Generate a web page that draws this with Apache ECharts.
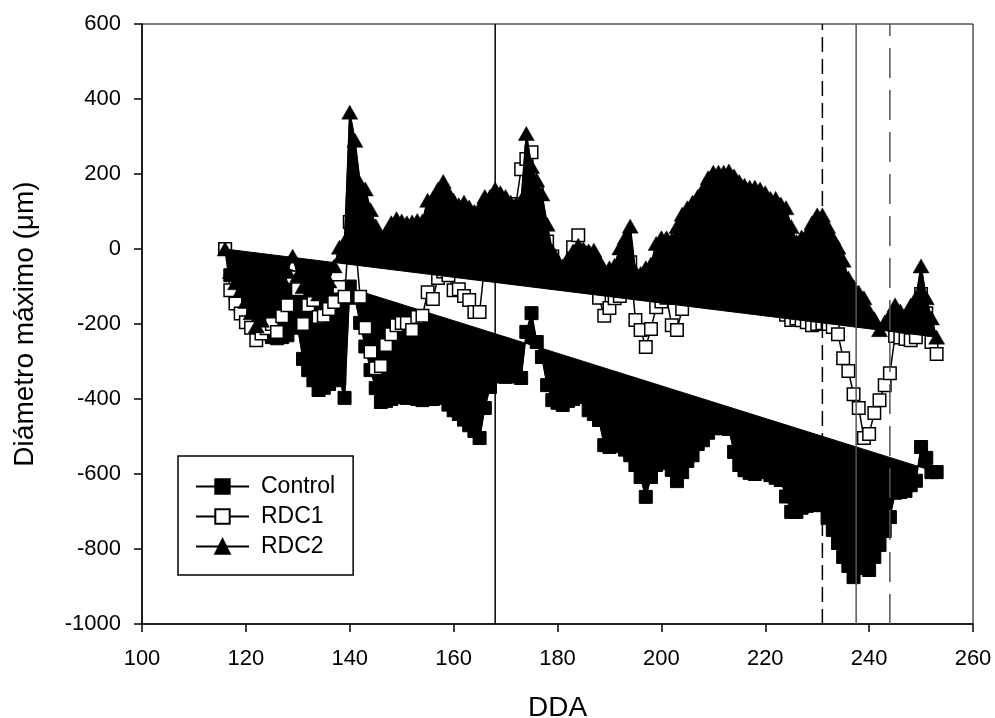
<!DOCTYPE html>
<html>
<head>
<meta charset="utf-8">
<style>html,body{margin:0;padding:0;background:#fff}#c{width:995px;height:718px}</style>
<script src="https://cdn.jsdelivr.net/npm/echarts@6/dist/echarts.min.js"></script>
</head>
<body>
<div id="c"></div>
<script>
const days = [
116,117,118,119,120,121,122,123,124,125,
126,127,128,129,130,131,132,133,134,135,
136,137,138,139,140,141,142,143,144,145,
146,147,148,149,150,151,152,153,154,155,
156,157,158,159,160,161,162,163,164,165,
166,167,168,169,170,171,172,173,174,175,
176,177,178,179,180,181,182,183,184,185,
186,187,188,189,190,191,192,193,194,195,
196,197,198,199,200,201,202,203,204,205,
206,207,208,209,210,211,212,213,214,215,
216,217,218,219,220,221,222,223,224,225,
226,227,228,229,230,231,232,233,234,235,
236,237,238,239,240,241,242,243,244,245,
246,247,248,249,250,251,252,253];
const control = [
0,-70,-120,-150,-170,-190,-210,-220,-215,-235,
-238,-235,-230,-190,-210,-293,-323,-350,-376,-370,
-360,-350,-345,-397,-100,-130,-197,-260,-323,-371,
-408,-405,-400,-395,-395,-397,-395,-400,-403,-400,
-400,-395,-397,-415,-430,-440,-455,-470,-485,-504,
-424,-368,-340,-335,-341,-335,-340,-344,-221,-171,
-248,-288,-363,-403,-410,-416,-405,-400,-395,-390,
-430,-440,-456,-523,-528,-525,-523,-535,-550,-576,
-608,-661,-608,-576,-560,-570,-589,-619,-595,-565,
-550,-520,-510,-490,-478,-477,-478,-480,-541,-576,
-590,-597,-600,-590,-595,-603,-610,-616,-660,-701,
-701,-690,-685,-683,-680,-683,-717,-749,-784,-821,
-845,-875,-850,-850,-856,-821,-789,-752,-715,-650,
-648,-645,-630,-618,-528,-557,-595,-595];
const rdc1 = [
0,-110,-145,-172,-195,-210,-243,-225,-211,-200,
-221,-179,-150,-75,-107,-200,-150,-136,-181,-178,
-160,-141,-101,-127,72,30,-127,-210,-274,-318,
-312,-256,-227,-203,-197,-197,-216,-181,-178,-115,
-133,-77,-60,-70,-110,-107,-125,-136,-168,-168,
-40,20,60,50,70,80,120,213,240,258,
150,60,20,-20,-60,-60,-60,5,37,-10,
-40,-80,-130,-178,-157,-131,-125,-80,-35,-189,
-216,-261,-213,-155,-140,-130,-203,-216,-160,-130,
-110,-80,-60,-40,-30,-30,-40,-50,-70,-80,
-90,-100,-110,-120,-130,-140,-150,-160,-175,-189,
-185,-190,-195,-203,-200,-198,-200,-208,-227,-291,
-325,-387,-424,-504,-493,-437,-403,-363,-331,-232,
-236,-240,-243,-235,-120,-171,-248,-280];
const rdc2 = [
0,-60,-90,-110,-140,-170,-205,-190,-160,-130,
-110,-80,-60,-19,-70,-100,-90,-110,-120,-100,
-85,-45,5,20,365,290,175,160,105,62,
30,45,70,81,75,70,72,76,75,130,
135,160,180,150,130,118,125,112,100,110,
140,140,160,150,140,125,120,130,308,220,
184,147,66,-5,-30,-45,-25,-5,10,0,
-5,-3,-30,-60,-50,-43,3,30,61,-60,
-65,-50,-40,15,30,30,25,60,93,110,
125,140,160,190,205,205,205,208,195,180,
170,165,165,160,150,135,135,120,110,60,
20,32,40,70,91,91,61,30,5,-30,
-77,-100,-115,-130,-165,-186,-215,-195,-175,-149,
-165,-180,-150,-130,-45,-130,-184,-235];
const refSolid = 168, refDashed = 231, refThin = 237.5, refLong = 244;
const yMin = -1000, yMax = 600;
const FONT = '"Liberation Sans", Arial, sans-serif';

const pairs = v => days.map((d, i) => [d, v[i]]);
function closedShape(v, z) {
  return {
    type: 'custom', coordinateSystem: 'cartesian2d', z, silent: true,
    data: pairs(v), encode: {x: 0, y: 1},
    renderItem(params, api) {
      if (params.dataIndex !== 0) return null;
      return {type: 'polygon',
        shape: {points: pairs(v).map(p => api.coord(p))},
        style: {fill: '#000', stroke: '#000', lineWidth: 1}};
    }
  };
}
function marks(name, v, symbol, size, fill, stroke, z) {
  return {
    type: 'line', name, data: pairs(v), symbol, symbolSize: size, showSymbol: true,
    showAllSymbol: true, z, silent: true,
    lineStyle: {color: '#000', width: 1.5},
    itemStyle: {color: fill, borderColor: '#000', borderWidth: stroke, opacity: 1}
  };
}
function ref(x, color, width, type) {
  return {
    type: 'line', data: [[x, yMin], [x, yMax]], symbol: 'none', z: 8, silent: true,
    lineStyle: {color, width, type}
  };
}
const chart = echarts.init(document.getElementById('c'), null, {renderer: 'canvas'});
chart.setOption({
  animation: false,
  backgroundColor: '#fff',
  textStyle: {fontFamily: FONT},
  grid: {left: 142, right: 22, top: 24, bottom: 94, show: true, containLabel: false, outerBoundsMode: 'none', borderColor: '#000', borderWidth: 1, backgroundColor: 'transparent'},
  xAxis: {
    type: 'value', min: 100, max: 260, interval: 20,
    name: 'DDA', nameLocation: 'middle', nameGap: 70,
    nameTextStyle: {fontSize: 28, color: '#000', fontFamily: FONT},
    axisLine: {onZero: false, lineStyle: {color: '#000', width: 1.5}},
    axisTick: {length: 8, lineStyle: {color: '#000', width: 1.5}},
    axisLabel: {fontSize: 22, color: '#000', margin: 24, fontFamily: FONT},
    splitLine: {show: false}
  },
  yAxis: {
    type: 'value', min: yMin, max: yMax, interval: 200,
    name: 'Diámetro máximo (μm)', nameLocation: 'middle', nameGap: 103,
    nameTextStyle: {fontSize: 28, color: '#000', fontFamily: FONT},
    axisLine: {onZero: false, lineStyle: {color: '#000', width: 1.5}},
    axisTick: {length: 8, lineStyle: {color: '#000', width: 1.5}},
    axisLabel: {fontSize: 22, color: '#000', margin: 21, fontFamily: FONT, formatter: v => String(v)},
    splitLine: {show: false}
  },
  legend: {
    orient: 'vertical', left: 178, top: 456,
    padding: [19, 18, 17, 17],
    itemWidth: 53, itemHeight: 18, itemGap: 7,
    backgroundColor: '#fff', borderColor: '#000', borderWidth: 1.5,
    selectedMode: false,
    data: ['Control', 'RDC1', 'RDC2'],
    textStyle: {fontSize: 23, color: '#000', fontFamily: FONT, padding: [0, 0, 0, 7]}
  },
  series: [
    closedShape(control, 2),
    marks('Control', control, 'rect', 13, '#000', 1, 3),
    marks('RDC1', rdc1, 'rect', 12.5, '#fff', 1.5, 4),
    closedShape(rdc2, 5),
    marks('RDC2', rdc2, 'triangle', [16, 14], '#000', 0.5, 6),
    ref(refSolid, '#000', 1.5, 'solid'),
    ref(refDashed, '#000', 1.5, [15, 7]),
    ref(refThin, '#555', 1.5, 'solid'),
    ref(refLong, '#555', 1.5, [30, 12])
  ]
});
</script>
</body>
</html>
